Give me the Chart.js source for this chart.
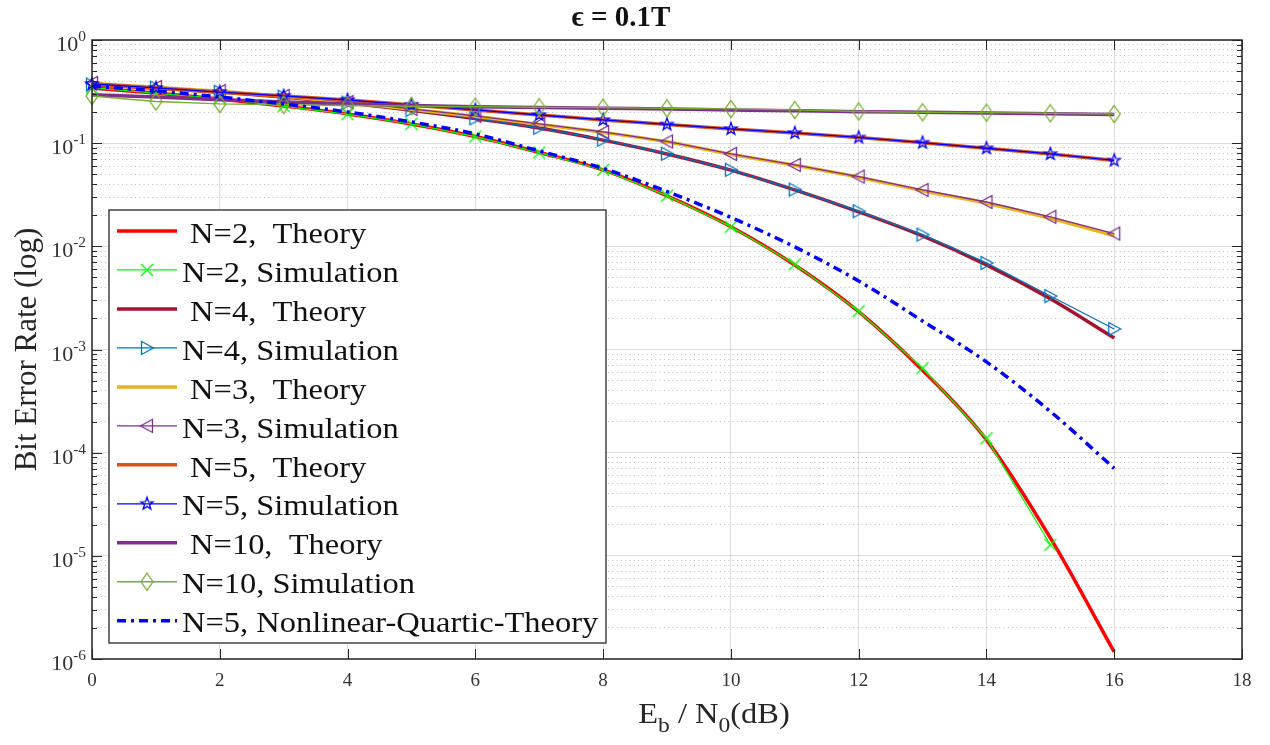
<!DOCTYPE html>
<html>
<head>
<meta charset="utf-8">
<script src="https://cdn.jsdelivr.net/npm/chart.js@4.4.1/dist/chart.umd.min.js"></script>
<style>
  html, body { margin: 0; padding: 0; background: #fff; }
  canvas { display: block; }
</style>
</head>
<body>
<canvas id="berChart" width="1270" height="745"></canvas>
<script>
// Eb/N0 (dB) sample points
const ebno = [0, 1, 2, 3, 4, 5, 6, 7, 8, 9, 10, 11, 12, 13, 14, 15, 16];

// BER values
const n2Theory = [0.342, 0.306, 0.268, 0.229, 0.192, 0.1535, 0.116, 0.0813, 0.055, 0.0308, 0.0155, 0.0066, 0.00233, 6.3e-4, 1.33e-4, 1.49e-5, 1.17e-6];
const n2Sim    = [0.345, 0.305, 0.27, 0.229, 0.191, 0.154, 0.116, 0.081, 0.055, 0.031, 0.0155, 0.0067, 0.00235, 6.6e-4, 1.38e-4, 1.28e-5];
const n4Theory = [0.366, 0.342, 0.313, 0.28, 0.245, 0.209, 0.1735, 0.14, 0.107, 0.0786, 0.0548, 0.0352, 0.0216, 0.0126, 0.0066, 0.0031, 0.00129];
const n4Sim    = [0.37, 0.345, 0.315, 0.282, 0.247, 0.21, 0.174, 0.141, 0.108, 0.079, 0.0552, 0.0355, 0.0219, 0.013, 0.0069, 0.0033, 0.00158];
const n3Theory = [0.38, 0.348, 0.318, 0.285, 0.249, 0.213, 0.182, 0.152, 0.127, 0.103, 0.078, 0.061, 0.0468, 0.0346, 0.0262, 0.0187, 0.0127];
const n3Sim    = [0.383, 0.35, 0.32, 0.287, 0.251, 0.2145, 0.1835, 0.1535, 0.1284, 0.1039, 0.0786, 0.0615, 0.0474, 0.0352, 0.0269, 0.0193, 0.0133];
const n5Theory = [0.372, 0.341, 0.312, 0.286, 0.262, 0.235, 0.21, 0.188, 0.168, 0.152, 0.137, 0.1255, 0.1135, 0.101, 0.0893, 0.0786, 0.068];
const n5Sim    = [0.375, 0.343, 0.313, 0.287, 0.262, 0.235, 0.21, 0.1876, 0.1678, 0.1518, 0.1373, 0.1256, 0.1136, 0.1011, 0.0893, 0.0786, 0.068];
const n10Theory = [0.295, 0.28, 0.264, 0.25, 0.24, 0.232, 0.226, 0.222, 0.218, 0.2145, 0.21, 0.206, 0.202, 0.199, 0.196, 0.193, 0.19];
const n10Sim    = [0.2866, 0.2535, 0.2399, 0.2355, 0.2317, 0.228, 0.2258, 0.2228, 0.2208, 0.2171, 0.2146, 0.2098, 0.2028, 0.1993, 0.1975, 0.195, 0.1918];
const n5Quartic = [0.358, 0.3205, 0.2803, 0.2398, 0.2006, 0.1605, 0.1228, 0.084, 0.0569, 0.034, 0.01905, 0.00987, 0.00462, 0.00189, 7.58e-4, 2.51e-4, 7.05e-5];

// axis ticks
const xTicks = [0, 2, 4, 6, 8, 10, 12, 14, 16, 18];
const yExponents = [0, -1, -2, -3, -4, -5, -6];

const SERIF = '"Liberation Serif", "DejaVu Serif", serif';
const INK = '#262626';

// hollow MATLAB-like markers drawn on small canvases
function makeMarker(kind, color) {
  const c = document.createElement('canvas');
  c.width = 20; c.height = 20;
  const g = c.getContext('2d');
  g.translate(10, 10);
  g.strokeStyle = color;
  g.lineWidth = 1.3;
  g.beginPath();
  if (kind === 'x') {
    g.moveTo(-6, -6); g.lineTo(6, 6);
    g.moveTo(6, -6); g.lineTo(-6, 6);
  } else if (kind === 'right') {
    g.moveTo(-5.5, -6.5); g.lineTo(6.5, 0); g.lineTo(-5.5, 6.5); g.closePath();
  } else if (kind === 'left') {
    g.moveTo(5.5, -6.5); g.lineTo(-6.5, 0); g.lineTo(5.5, 6.5); g.closePath();
  } else if (kind === 'star') {
    for (let i = 0; i < 10; i++) {
      const r = i % 2 ? 2.6 : 6.5;
      const a = -Math.PI / 2 + i * Math.PI / 5;
      const px = Math.cos(a) * r, py = Math.sin(a) * r;
      if (i === 0) g.moveTo(px, py); else g.lineTo(px, py);
    }
    g.closePath();
  } else if (kind === 'diamond') {
    g.moveTo(0, -8.5); g.lineTo(6, 0); g.lineTo(0, 8.5); g.lineTo(-6, 0); g.closePath();
  }
  g.stroke();
  return c;
}

const pts = (xs, ys) => ys.map((y, i) => ({ x: xs[i], y: y }));

function theory(label, color, values) {
  return {
    label: label, data: pts(ebno, values), borderColor: color, backgroundColor: color,
    borderWidth: 3.5, pointRadius: 0, cubicInterpolationMode: 'monotone', clip: false
  };
}
function simulation(label, color, values, marker) {
  return {
    label: label, data: pts(ebno, values), borderColor: color, backgroundColor: color,
    borderWidth: 1.3, pointRadius: 6, pointHoverRadius: 6,
    pointStyle: makeMarker(marker, color), tension: 0, clip: false
  };
}

const datasets = [
  theory(' N=2,  Theory', '#ff0000', n2Theory),
  simulation('N=2, Simulation', '#00ff00', n2Sim, 'x'),
  theory(' N=4,  Theory', '#a2142f', n4Theory),
  simulation('N=4, Simulation', '#0072bd', n4Sim, 'right'),
  theory(' N=3,  Theory', '#edb120', n3Theory),
  simulation('N=3, Simulation', '#7e2f8e', n3Sim, 'left'),
  theory(' N=5,  Theory', '#d95319', n5Theory),
  simulation('N=5, Simulation', '#0000ff', n5Sim, 'star'),
  theory(' N=10,  Theory', '#7e2f8e', n10Theory),
  simulation('N=10, Simulation', '#77ac30', n10Sim, 'diamond'),
  Object.assign(theory('N=5, Nonlinear-Quartic-Theory', '#0000ff', n5Quartic), { borderDash: [9, 5, 3, 5] })
];
// MATLAB draws later lines on top
datasets.forEach((d, i) => { d.order = datasets.length - i; });

function wideText(ctx, text, x, y, sx) {
  ctx.save();
  ctx.translate(x, y);
  ctx.scale(sx, 1);
  ctx.fillText(text, 0, 0);
  ctx.restore();
}

const matlabFrame = {
  id: 'matlabFrame',
  afterDatasetsDraw(chart) {
    const { ctx, chartArea: a, scales: { x, y } } = chart;
    ctx.save();
    ctx.strokeStyle = INK;
    ctx.lineWidth = 1;
    ctx.beginPath();
    xTicks.forEach(v => {
      const px = Math.round(x.getPixelForValue(v)) + 0.5;
      ctx.moveTo(px, a.bottom); ctx.lineTo(px, a.bottom - 10);
      ctx.moveTo(px, a.top); ctx.lineTo(px, a.top + 10);
    });
    y.ticks.forEach(t => {
      const py = Math.round(y.getPixelForValue(t.value)) + 0.5;
      const len = t.major ? 10 : 5;
      ctx.moveTo(a.left, py); ctx.lineTo(a.left + len, py);
      ctx.moveTo(a.right, py); ctx.lineTo(a.right - len, py);
    });
    ctx.stroke();
    ctx.lineWidth = 1.5;
    ctx.strokeRect(a.left, a.top, a.right - a.left, a.bottom - a.top);
    ctx.restore();
  },
  afterDraw(chart) {
    const { ctx, scales: { y } } = chart;
    ctx.save();
    ctx.fillStyle = '#333';
    ctx.textBaseline = 'alphabetic';
    // y tick labels 10^n
    yExponents.forEach(e => {
      const py = y.getPixelForValue(Math.pow(10, e));
      ctx.font = '14px ' + SERIF;
      const ew = ctx.measureText(String(e)).width * 1.1;
      ctx.font = '20px ' + SERIF;
      const bw = ctx.measureText('10').width * 1.1;
      const right = 86;
      wideText(ctx, '10', right - ew - bw, py + 11, 1.1);
      ctx.font = '14px ' + SERIF;
      wideText(ctx, String(e), right - ew, py + 1, 1.1);
    });

    // x axis title  E_b / N_0 (dB)
    const parts = [['E', 29, 0], ['b', 21, 9], [' / N', 29, 0], ['0', 21, 9], ['(dB)', 29, 0]];
    const sx = 1.12;
    let total = 0;
    parts.forEach(p => { ctx.font = p[1] + 'px ' + SERIF; total += ctx.measureText(p[0]).width * sx; });
    let cx = 714 - total / 2;
    ctx.fillStyle = INK;
    parts.forEach(p => {
      ctx.font = p[1] + 'px ' + SERIF;
      wideText(ctx, p[0], cx, 723 + p[2], sx);
      cx += ctx.measureText(p[0]).width * sx;
    });

    // legend box
    const box = { left: 109, top: 210, right: 606, bottom: 643 };
    ctx.fillStyle = '#fff';
    ctx.fillRect(box.left, box.top, box.right - box.left, box.bottom - box.top);
    ctx.strokeStyle = INK;
    ctx.lineWidth = 1.3;
    ctx.strokeRect(box.left, box.top, box.right - box.left, box.bottom - box.top);
    const rowH = 38.97;
    chart.data.datasets.forEach((d, i) => {
      const cy = 231 + i * rowH;
      ctx.save();
      ctx.strokeStyle = d.borderColor;
      ctx.lineWidth = d.borderWidth;
      ctx.setLineDash(d.borderDash || []);
      ctx.beginPath();
      ctx.moveTo(117, cy); ctx.lineTo(177, cy);
      ctx.stroke();
      ctx.restore();
      if (d.pointRadius > 0 && d.pointStyle) {
        const m = d.pointStyle;
        ctx.drawImage(m, 147 - m.width / 2, cy - m.height / 2);
      }
      ctx.fillStyle = '#111';
      ctx.font = '29px ' + SERIF;
      wideText(ctx, d.label, 182, cy + 11.7, 1.12);
    });
    ctx.restore();
  }
};

new Chart(document.getElementById('berChart'), {
  type: 'line',
  data: { datasets: datasets },
  options: {
    responsive: false,
    animation: false,
    devicePixelRatio: 1,
    layout: { padding: { left: 0, right: 28, top: 0, bottom: 0 } },
    plugins: {
      legend: { display: false },
      tooltip: { enabled: false },
      title: {
        display: true,
        text: 'ϵ = 0.1T',
        color: '#111',
        font: { family: SERIF, size: 29, weight: 'bold', lineHeight: 1.1 },
        padding: { top: 3, bottom: 5.1 }
      }
    },
    scales: {
      x: {
        type: 'linear',
        min: xTicks[0],
        max: xTicks[xTicks.length - 1],
        afterBuildTicks: s => { s.ticks = xTicks.map(v => ({ value: v })); },
        afterFit: s => { s.height = 86; },
        ticks: { color: '#333', font: { family: SERIF, size: 19 }, padding: 11, autoSkip: false, maxRotation: 0 },
        grid: { color: 'rgba(0,0,0,0.13)', drawTicks: false },
        border: { display: false }
      },
      y: {
        type: 'logarithmic',
        min: Math.pow(10, Math.min(...yExponents)),
        max: Math.pow(10, Math.max(...yExponents)),
        afterBuildTicks: s => {
          const ticks = [];
          const lo = Math.min(...yExponents), hi = Math.max(...yExponents);
          for (let e = lo; e < hi; e++) {
            for (let m = 1; m < 10; m++) ticks.push({ value: m * Math.pow(10, e), major: m === 1 });
          }
          ticks.push({ value: Math.pow(10, hi), major: true });
          s.ticks = ticks;
        },
        afterFit: s => { s.width = 92; },
        ticks: { display: false, autoSkip: false },
        grid: {
          color: c => (c.tick && c.tick.major ? 'rgba(0,0,0,0.13)' : 'rgba(0,0,0,0.26)'),
          drawTicks: false
        },
        border: { display: false, dash: c => (c.tick && c.tick.major ? [] : [1, 3.3]) },
        title: {
          display: true,
          text: 'Bit Error Rate (log)',
          color: INK,
          font: { family: SERIF, size: 31, lineHeight: 1 },
          padding: { top: 12, bottom: 0 }
        }
      }
    }
  },
  plugins: [matlabFrame]
});
</script>
</body>
</html>
